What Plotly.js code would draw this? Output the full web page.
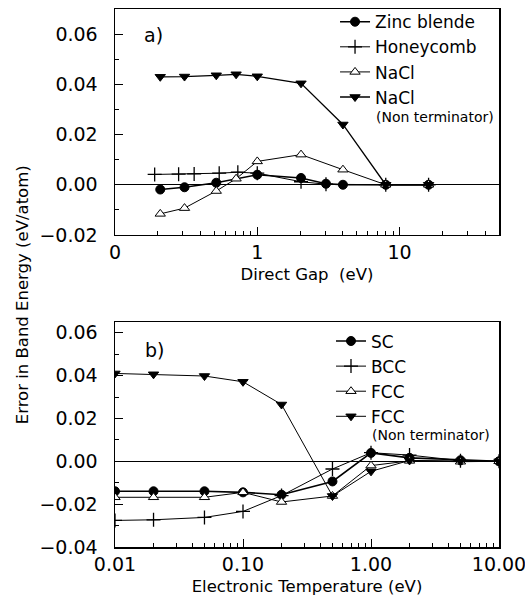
<!DOCTYPE html>
<html><head><meta charset="utf-8">
<script src="https://cdn.plot.ly/plotly-3.0.1.min.js"></script>
<style>html,body{margin:0;padding:0;background:#fff}</style>
</head><body>
<div id="chart" style="width:525px;height:604px"></div>
<script>
// ---- Panel a) Direct gap (eV) ----
const gapZB   = [0.208, 0.308, 0.515, 1.0, 2.03, 3.04, 4.0, 8.0, 16.0];
const errZB   = [-0.0019, -0.0010, 0.0008, 0.0040, 0.0027, 0.0004, 0.0000, 0.0000, 0.0000];
const gapHC   = [0.19, 0.28, 0.36, 0.54, 0.73, 1.0, 2.03, 3.04, 8.0, 16.0];
const errHC   = [0.0041, 0.0042, 0.0043, 0.0046, 0.0050, 0.0046, 0.0012, 0.0002, 0.0000, 0.0000];
const gapNaCl = [0.208, 0.308, 0.515, 0.71, 1.0, 2.03, 4.0, 8.0, 16.0];
const errNaCl = [-0.0116, -0.0093, -0.0025, 0.0024, 0.0093, 0.0120, 0.0060, 0.0000, 0.0000];
const gapNT   = [0.208, 0.308, 0.515, 0.71, 1.0, 2.03, 4.0, 8.0, 16.0];
const errNT   = [0.0430, 0.0431, 0.0436, 0.0440, 0.0432, 0.0404, 0.0240, 0.0000, 0.0000];

// ---- Panel b) Electronic temperature (eV) ----
const temp    = [0.01, 0.02, 0.05, 0.1, 0.2, 0.5, 1.0, 2.0, 5.0, 10.0];
const errSC   = [-0.0140, -0.0140, -0.0140, -0.0145, -0.0156, -0.0094, 0.0039, 0.0016, 0.0005, 0.0000];
const errBCC  = [-0.0276, -0.0273, -0.0262, -0.0234, -0.0160, -0.0036, 0.0040, 0.0029, 0.0003, 0.0000];
const errFCC  = [-0.0168, -0.0168, -0.0168, -0.0145, -0.0190, -0.0162, -0.0020, 0.0002, -0.0002, 0.0000];
const errFNT  = [0.0410, 0.0406, 0.0398, 0.0371, 0.0265, -0.0162, -0.0047, 0.0004, 0.0000, 0.0000];

const xTicksA = [0.1, 1, 10];
const xTextA  = ['0', '1', '10'];
const xTicksB = [0.01, 0.1, 1, 10];
const xTextB  = ['0.01', '0.10', '1.00', '10.00'];

const minorA = [0.2,0.3,0.4,0.5,0.6,0.7,0.8,0.9,2,3,4,5,6,7,8,9,20,30,40];
const minorB = [0.02,0.03,0.04,0.05,0.06,0.07,0.08,0.09,0.2,0.3,0.4,0.5,0.6,0.7,0.8,0.9,2,3,4,5,6,7,8,9];

const FONT = '"DejaVu Sans", "Liberation Sans", Arial, sans-serif';

function tr(x, y, name, sym, fill, lw, xa, ya, leg, msize) {
  return {
    x: x, y: y, name: name, type: 'scatter', mode: 'lines+markers',
    xaxis: xa, yaxis: ya, legend: leg,
    line: {color: '#000', width: lw},
    marker: {symbol: sym, size: msize || 9, color: fill,
             line: {color: '#000', width: sym === 'cross-thin' ? 1.3 : 1}}
  };
}

const data = [
  tr(gapZB, errZB, 'Zinc blende', 'circle', '#000', 1.6, 'x', 'y', 'legend'),
  tr(gapHC, errHC, 'Honeycomb', 'cross-thin', '#000', 1, 'x', 'y', 'legend', 10),
  tr(gapNaCl, errNaCl, 'NaCl', 'triangle-up', '#fff', 1, 'x', 'y', 'legend'),
  tr(gapNT, errNT, 'NaCl', 'triangle-down', '#000', 1.3, 'x', 'y', 'legend'),
  tr(temp, errSC, 'SC', 'circle', '#000', 1.6, 'x2', 'y2', 'legend2'),
  tr(temp, errBCC, 'BCC', 'cross-thin', '#000', 1, 'x2', 'y2', 'legend2', 10),
  tr(temp, errFCC, 'FCC', 'triangle-up', '#fff', 1, 'x2', 'y2', 'legend2'),
  tr(temp, errFNT, 'FCC', 'triangle-down', '#000', 1, 'x2', 'y2', 'legend2')
];

const axBase = {
  showgrid: false, showline: true, mirror: true, linecolor: '#000', linewidth: 1.5,
  ticks: 'inside', ticklen: 8, tickwidth: 1, tickcolor: '#000',
  tickfont: {family: FONT, size: 19, color: '#000'}, ticklabeloverflow: 'allow'
};
const titleFont = {family: FONT, size: 16.5, color: '#000'};
const legFont = {family: FONT, size: 17, color: '#000'};
const ntFont = {family: FONT, size: 14, color: '#000'};

const layout = {
  width: 525, height: 604,
  margin: {l: 115, r: 26, t: 9, b: 57, autoexpand: false},
  paper_bgcolor: '#fff', plot_bgcolor: '#fff',
  font: {family: FONT, color: '#000'},
  xaxis: Object.assign({}, axBase, {
    type: 'log', range: [-1, Math.log10(50)], domain: [0, 1], anchor: 'y',
    tickmode: 'array', tickvals: xTicksA, ticktext: xTextA,
    minor: {tickmode: 'array', tickvals: minorA, ticks: 'inside', ticklen: 4, tickcolor: '#000'},
    title: {text: 'Direct Gap  (eV)', font: titleFont, standoff: 6}
  }),
  yaxis: Object.assign({}, axBase, {
    range: [-0.02, 0.07], domain: [0.58, 1], anchor: 'x', ticklabelstandoff: 12,
    tickmode: 'array', tickvals: [-0.02, 0, 0.02, 0.04, 0.06], tickformat: '.2f',
    minor: {tickmode: 'array', tickvals: [-0.01, 0.01, 0.03, 0.05], ticks: 'inside', ticklen: 4, tickcolor: '#000'},
    zeroline: true, zerolinecolor: '#000', zerolinewidth: 1
  }),
  xaxis2: Object.assign({}, axBase, {
    type: 'log', range: [-2, 1], domain: [0, 1], anchor: 'y2',
    tickmode: 'array', tickvals: xTicksB, ticktext: xTextB,
    minor: {tickmode: 'array', tickvals: minorB, ticks: 'inside', ticklen: 4, tickcolor: '#000'},
    title: {text: 'Electronic Temperature (eV)', font: titleFont, standoff: 6}
  }),
  yaxis2: Object.assign({}, axBase, {
    range: [-0.04, 0.065], domain: [0, 0.4182], anchor: 'x2', ticklabelstandoff: 12,
    tickmode: 'array', tickvals: [-0.04, -0.02, 0, 0.02, 0.04, 0.06], tickformat: '.2f',
    minor: {tickmode: 'array', tickvals: [-0.03, -0.01, 0.01, 0.03, 0.05], ticks: 'inside', ticklen: 4, tickcolor: '#000'},
    zeroline: true, zerolinecolor: '#000', zerolinewidth: 1
  }),
  legend: {
    x: 0.573, y: 1.009, xanchor: 'left', yanchor: 'top', bgcolor: 'rgba(0,0,0,0)',
    font: legFont, tracegroupgap: 0, itemwidth: 30
  },
  legend2: {
    x: 0.5625, y: 0.4155, xanchor: 'left', yanchor: 'top', bgcolor: 'rgba(0,0,0,0)',
    font: legFont, tracegroupgap: 0, itemwidth: 30
  },
  annotations: [
    {text: 'a)', xref: 'x domain', yref: 'y domain', x: 0.07, y: 0.885, showarrow: false,
     font: {family: FONT, size: 19, color: '#000'}, xanchor: 'left', yanchor: 'middle'},
    {text: 'b)', xref: 'x2 domain', yref: 'y2 domain', x: 0.072, y: 0.875, showarrow: false,
     font: {family: FONT, size: 19, color: '#000'}, xanchor: 'left', yanchor: 'middle'},
    {text: '(Non terminator)', xref: 'paper', yref: 'paper', x: 0.678, y: 0.7995, showarrow: false,
     font: ntFont, xanchor: 'left', yanchor: 'middle', borderpad: 0},
    {text: '(Non terminator)', xref: 'paper', yref: 'paper', x: 0.667, y: 0.2082, showarrow: false,
     font: ntFont, xanchor: 'left', yanchor: 'middle', borderpad: 0},
    {text: 'Error in Band Energy (eV/atom)', xref: 'paper', yref: 'paper', x: -0.242, y: 0.468,
     textangle: -90, showarrow: false, font: titleFont,
     xanchor: 'center', yanchor: 'middle'}
  ]
};

Plotly.newPlot('chart', data, layout, {displayModeBar: false, staticPlot: true});
</script>
</body></html>
